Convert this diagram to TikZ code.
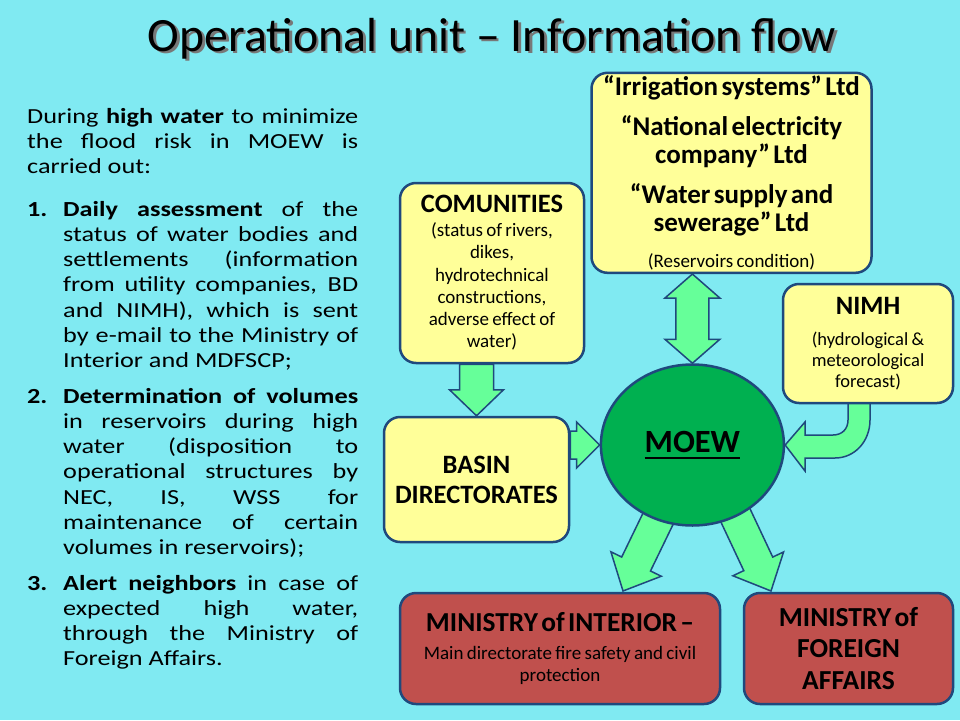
\documentclass[tikz,border=0pt]{standalone}
\usepackage{fontspec}
\setmainfont{Carlito}
\newfontfamily\bodyfont[FakeStretch=1.22]{Carlito}
\usetikzlibrary{shapes.geometric,calc,positioning}

\definecolor{bgcyan}{RGB}{128,234,242}
\definecolor{boxyellow}{RGB}{255,255,153}
\definecolor{boxline}{RGB}{31,73,125}
\definecolor{arrowgreen}{RGB}{102,255,153}
\definecolor{moewgreen}{RGB}{0,176,80}
\definecolor{boxred}{RGB}{192,80,77}
\definecolor{titleshade}{RGB}{120,120,120}

\pgfdeclarelayer{bg}
\pgfdeclarelayer{flow}
\pgfsetlayers{bg,flow,main}

\newcommand{\jl}[1]{\makebox[\linewidth][s]{#1}}
\newcommand{\hd}{\bfseries\fontsize{26.5}{30}\selectfont}
\newcommand{\nt}{\fontsize{19}{22.3}\selectfont}
\newcommand{\thickul}[1]{\sbox0{#1}\rlap{\rule[-7.1pt]{\wd0}{2.6pt}}\usebox0}

\tikzset{
  titletext/.style={anchor=base, inner sep=0pt, font=\fontsize{47.8}{52}\selectfont},
  bodytext/.style={anchor=base west, inner sep=0pt, font=\bodyfont\fontsize{21.5}{25.3}\selectfont},
  infobox/.style={draw=boxline, line width=2.5pt, rounded corners=16pt, fill=boxyellow,
    align=center, inner sep=0pt},
  ministrybox/.style={infobox, fill=boxred},
  flowarrow/.style={draw=boxline, line width=1.5pt, fill=arrowgreen, line join=miter}
}

% block arrow: from, to, shaft half width, head half width, head length
\newcommand{\blockarrow}[5]{%
  \coordinate (ba-s) at (#1);
  \coordinate (ba-t) at (#2);
  \coordinate (ba-h) at ($(ba-t)!#5!(ba-s)$);
  \draw[flowarrow] ($(ba-s)!#3!90:(ba-t)$) -- ($(ba-h)!#3!90:(ba-t)$)
    -- ($(ba-h)!#4!90:(ba-t)$) -- (ba-t) -- ($(ba-h)!#4!-90:(ba-t)$)
    -- ($(ba-h)!#3!-90:(ba-t)$) -- ($(ba-s)!#3!-90:(ba-t)$) -- cycle;}

% double block arrow: end, end, shaft half width, head half width, head length
\newcommand{\doublearrow}[5]{%
  \coordinate (da-a) at (#1);
  \coordinate (da-b) at (#2);
  \coordinate (da-ha) at ($(da-a)!#5!(da-b)$);
  \coordinate (da-hb) at ($(da-b)!#5!(da-a)$);
  \draw[flowarrow] (da-a) -- ($(da-ha)!#4!90:(da-b)$) -- ($(da-ha)!#3!90:(da-b)$)
    -- ($(da-hb)!#3!90:(da-b)$) -- ($(da-hb)!#4!90:(da-b)$) -- (da-b)
    -- ($(da-hb)!#4!-90:(da-b)$) -- ($(da-hb)!#3!-90:(da-b)$)
    -- ($(da-ha)!#3!-90:(da-b)$) -- ($(da-ha)!#4!-90:(da-b)$) -- cycle;}

\begin{document}
\begin{tikzpicture}[x=1pt,y=-1pt]
  \useasboundingbox (0,0) rectangle (960,720);
  \begin{pgfonlayer}{bg}
    \fill[bgcyan] (0,0) rectangle (960,720);
  \end{pgfonlayer}

  % Title
  \node[titletext, text=titleshade] (titleshadow) at (494.5,53.5) {Operational unit – Information flow};
  \node[titletext] (title) at (492,51) {Operational unit – Information flow};

  % Left column
  \node[bodytext] (intro) at (27,123) {\parbox[t]{331pt}{%
    \jl{During \textbf{high water} to minimize}\\
    \jl{the flood risk in MOEW is}\\
    carried out:}};
  \node[bodytext] (item1) at (27,216) {\makebox[36pt][l]{\textbf{1.}}\parbox[t]{295pt}{%
    \jl{\textbf{Daily assessment} of the}\\
    \jl{status of water bodies and}\\
    \jl{settlements (information}\\
    \jl{from utility companies, BD}\\
    \jl{and NIMH), which is sent}\\
    \jl{by e-mail to the Ministry of}\\
    Interior and MDFSCP;}};
  \node[bodytext] (item2) at (27,403) {\makebox[36pt][l]{\textbf{2.}}\parbox[t]{295pt}{%
    \jl{\textbf{Determination of volumes}}\\
    \jl{in reservoirs during high}\\
    \jl{water (disposition to}\\
    \jl{operational structures by}\\
    \jl{NEC, IS, WSS for}\\
    \jl{maintenance of certain}\\
    volumes in reservoirs);}};
  \node[bodytext] (item3) at (27,590) {\makebox[36pt][l]{\textbf{3.}}\parbox[t]{295pt}{%
    \jl{\textbf{Alert neighbors} in case of}\\
    \jl{expected high water,}\\
    \jl{through the Ministry of}\\
    Foreign Affairs.}};

  % Boxes
  \node[infobox, minimum width=280pt, minimum height=200pt, text width=274pt] (util) at (731.5,172.8)
    {\bfseries\fontsize{27}{28.3}\selectfont “Irrigation systems” Ltd\par\vspace{11.7pt}
     “National electricity\\ company” Ltd\par\vspace{11.4pt}
     “Water supply and\\ sewerage” Ltd\par\vspace{13.4pt}
     {\nt\mdseries (Reservoirs condition)\par}};
  \node[infobox, minimum width=184pt, minimum height=180pt, text width=178pt] (com) at (492,273)
    {{\hd COMUNITIES\par}\vspace{1.4pt}
     {\nt (status of rivers,\\ dikes,\\ hydrotechnical\\ constructions,\\ adverse effect of\\ water)\par}};
  \node[infobox, minimum width=170pt, minimum height=119pt, text width=164pt] (nimh) at (868,343.5)
    {{\hd NIMH\par}\vspace{11pt}
     {\fontsize{18.5}{20.8}\selectfont (hydrological \&\\ meteorological\\ forecast)\par}};
  \node[infobox, minimum width=185pt, minimum height=125pt, text width=179pt] (basin) at (476.5,479.5)
    {\hd BASIN\\ DIRECTORATES\par};
  \node[ellipse, draw=boxline, line width=2.5pt, fill=moewgreen, minimum width=183pt,
    minimum height=161pt, inner sep=0pt] (moew) at (692.4,445)
    {\bfseries\fontsize{32.4}{36}\selectfont\thickul{MOEW}};
  \node[ministrybox, minimum width=320pt, minimum height=111pt, text width=314pt] (mint) at (560,648.5)
    {\vspace*{4pt}\nt{\bfseries\fontsize{27.4}{31}\selectfont MINISTRY of INTERIOR –}\\[1.7pt]
     Main directorate fire safety and civil\\ protection\par};
  \node[ministrybox, minimum width=209pt, minimum height=111pt, text width=203pt] (mfa) at (848.5,648.5)
    {\bfseries\fontsize{27.5}{31.6}\selectfont MINISTRY of\\ FOREIGN\\ AFFAIRS\par};

  % Flow arrows
  \coordinate (tipI) at (623,591);
  \coordinate (tipF) at (771,591);
  \begin{pgfonlayer}{flow}
    \blockarrow{com.south -| basin.north}{basin.north}{17pt}{27pt}{26pt}
    \blockarrow{basin.east |- moew.west}{moew.west}{14pt}{23pt}{23pt}
    \doublearrow{util.south -| moew.north}{moew.north}{16.5pt}{27.5pt}{24pt}
    \blockarrow{$(moew.center)+(-18,40)$}{tipI}{16pt}{28pt}{30pt}
    \blockarrow{$(moew.center)+(25,32)$}{tipF}{16pt}{28pt}{30pt}
    % bent arrow from NIMH
    \draw[flowarrow] (848,400) -- (848,420) .. controls (848,429) and (842,435) .. (833,435)
      -- (805,435) -- (805,422) -- (moew.east) -- (805,471) -- (805,458) -- (835,458)
      .. controls (855,458) and (870,441) .. (870,420) -- (870,400) -- cycle;
  \end{pgfonlayer}
\end{tikzpicture}
\end{document}
